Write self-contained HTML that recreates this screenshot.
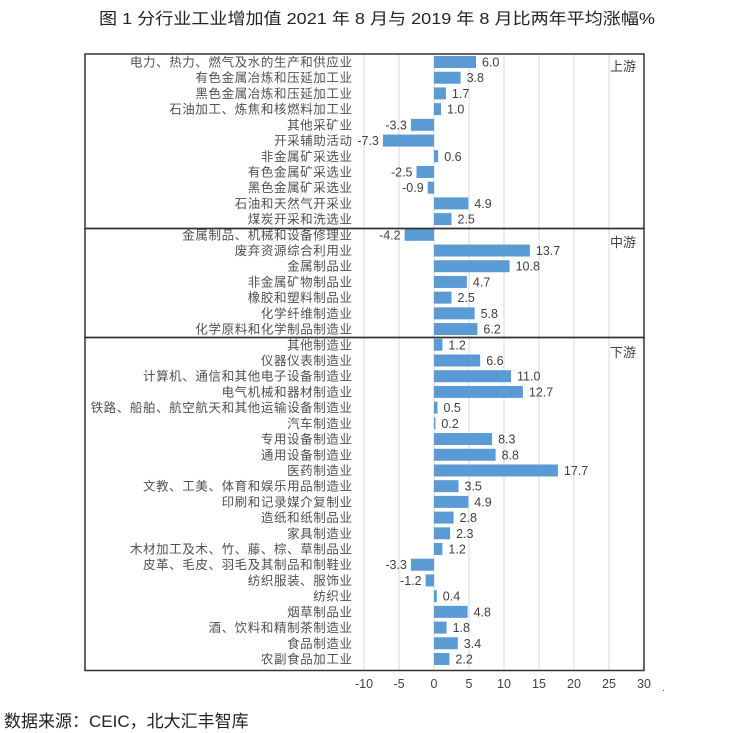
<!DOCTYPE html>
<html><head><meta charset="utf-8"><style>
html,body{margin:0;padding:0;background:#fff;}
svg{display:block;}
text{font-family:"Liberation Sans","Noto Sans CJK SC",sans-serif;fill:#404040;}
.lab{font-size:12.5px;letter-spacing:0.6px;text-anchor:end;fill:#505050;}
.val{font-size:12.5px;}
</style></head><body>
<svg id="s" width="739" height="733" xmlns="http://www.w3.org/2000/svg">
<text x="377" y="24" text-anchor="middle" style="font-size:16px;fill:#222" textLength="556" lengthAdjust="spacingAndGlyphs">图 1 分行业工业增加值 2021 年 8 月与 2019 年 8 月比两年平均涨幅%</text>
<g id="grid"></g>
<g id="rows"></g>
<rect x="85" y="54" width="559" height="174.5" fill="none" stroke="#333" stroke-width="1.5"/>
<rect x="85" y="228.5" width="559" height="109" fill="none" stroke="#333" stroke-width="1.5"/>
<rect x="85" y="337.5" width="559" height="333" fill="none" stroke="#333" stroke-width="1.5"/>
<text x="610" y="71" style="font-size:13px">上游</text>
<text x="610" y="247" style="font-size:13px">中游</text>
<text x="610" y="357" style="font-size:13px">下游</text>
<g id="ticks"></g>
<rect x="663" y="690" width="1" height="1" fill="#444"/>
<text x="4" y="727" style="font-size:17px;fill:#222">数据来源：CEIC，北大汇丰智库</text>
</svg>
<script>
var d=[["电力、热力、燃气及水的生产和供应业",6.0],["有色金属冶炼和压延加工业",3.8],["黑色金属冶炼和压延加工业",1.7],["石油加工、炼焦和核燃料加工业",1.0],["其他采矿业",-3.3],["开采辅助活动",-7.3],["非金属矿采选业",0.6],["有色金属矿采选业",-2.5],["黑色金属矿采选业",-0.9],["石油和天然气开采业",4.9],["煤炭开采和洗选业",2.5],
["金属制品、机械和设备修理业",-4.2],["废弃资源综合利用业",13.7],["金属制品业",10.8],["非金属矿物制品业",4.7],["橡胶和塑料制品业",2.5],["化学纤维制造业",5.8],["化学原料和化学制品制造业",6.2],
["其他制造业",1.2],["仪器仪表制造业",6.6],["计算机、通信和其他电子设备制造业",11.0],["电气机械和器材制造业",12.7],["铁路、船舶、航空航天和其他运输设备制造业",0.5],["汽车制造业",0.2],["专用设备制造业",8.3],["通用设备制造业",8.8],["医药制造业",17.7],["文教、工美、体育和娱乐用品制造业",3.5],["印刷和记录媒介复制业",4.9],["造纸和纸制品业",2.8],["家具制造业",2.3],["木材加工及木、竹、藤、棕、草制品业",1.2],["皮革、毛皮、羽毛及其制品和制鞋业",-3.3],["纺织服装、服饰业",-1.2],["纺织业",0.4],["烟草制品业",4.8],["酒、饮料和精制茶制造业",1.8],["食品制造业",3.4],["农副食品加工业",2.2]];
var NS="http://www.w3.org/2000/svg";
function el(p,t,a,tx){var e=document.createElementNS(NS,t);for(var k in a)e.setAttribute(k,a[k]);if(tx!=null)e.textContent=tx;document.getElementById(p).appendChild(e);}
var X0=434,S=7;
for(var v=-10;v<=30;v+=5){var x=X0+v*S;el("grid","line",{x1:x,x2:x,y1:54,y2:670,stroke:"#d9d9d9","stroke-width":1});
el("ticks","text",{x:x,y:688,"text-anchor":"middle","class":"val"},String(v));}
for(var i=0;i<d.length;i++){var y=62+i*15.71,v=d[i][1];
el("rows","text",{x:352.6,y:y+4.5,"class":"lab"},d[i][0]);
var w=Math.abs(v)*S,x=v>=0?X0:X0-w;
el("rows","rect",{x:x,y:y-6,width:Math.max(w,1),height:12,fill:"#5b9bd5"});
var s=v.toFixed(1);
if(v>=0)el("rows","text",{x:X0+w+6,y:y+4.5,"class":"val"},s);
else el("rows","text",{x:X0-w-4,y:y+4.5,"class":"val","text-anchor":"end"},s);}
</script>
</body></html>
